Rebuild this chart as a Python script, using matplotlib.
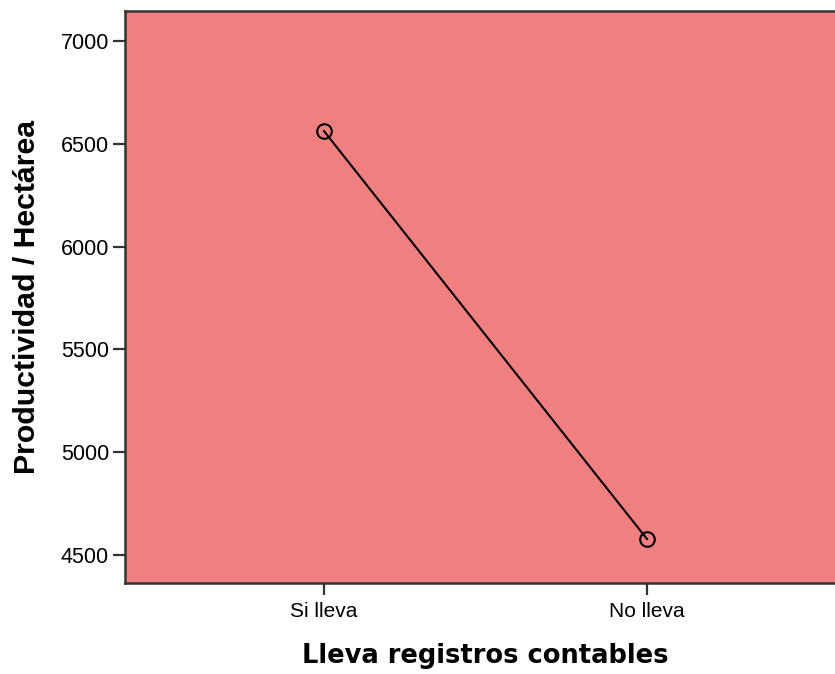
import matplotlib
matplotlib.use("Agg")
from matplotlib import pyplot as plt

categories = ["Si lleva", "No lleva"]
productividad = [6562, 4578]
yticks = [4500, 5000, 5500, 6000, 6500, 7000]

W, H = 835, 674
fig = plt.figure(figsize=(W / 100, H / 100), dpi=100, facecolor="white")
ax = fig.add_axes([125 / W, (H - 583) / H, (835 - 125) / W, (583 - 11) / H])
ax.set_facecolor("#F08080")

x = list(range(len(categories)))
ax.plot(x, productividad, color="black", lw=1.5, marker="o", ms=10.5,
        mfc="none", mec="black", mew=1.5, zorder=3)

ax.set_xlim(-0.616, 1.582)
ax.set_ylim(4364, 7146)
ax.set_xticks(x)
ax.set_xticklabels(categories, family="Liberation Sans", fontsize=15)
ax.set_yticks(yticks)
ax.set_yticklabels([str(v) for v in yticks], family="Liberation Sans", fontsize=15.5)
ax.tick_params(axis="both", direction="out", length=8.5, width=1.6, color="#333333")
ax.tick_params(axis="y", pad=3)
ax.tick_params(axis="x", pad=5)

ax.spines["right"].set_visible(False)
for side in ["left", "bottom", "top"]:
    ax.spines[side].set_linewidth(1.8)
    ax.spines[side].set_color("#333333")

ax.set_ylabel("Productividad / Hectárea", family="Liberation Sans", fontweight="bold",
              fontsize=21.8, labelpad=14)
ax.set_xlabel("Lleva registros contables", family="DejaVu Sans", fontweight="bold",
              fontsize=18.5, labelpad=17)
ax.xaxis.set_label_coords(0.508, -0.105)

fig.savefig("out.png", dpi=100)
